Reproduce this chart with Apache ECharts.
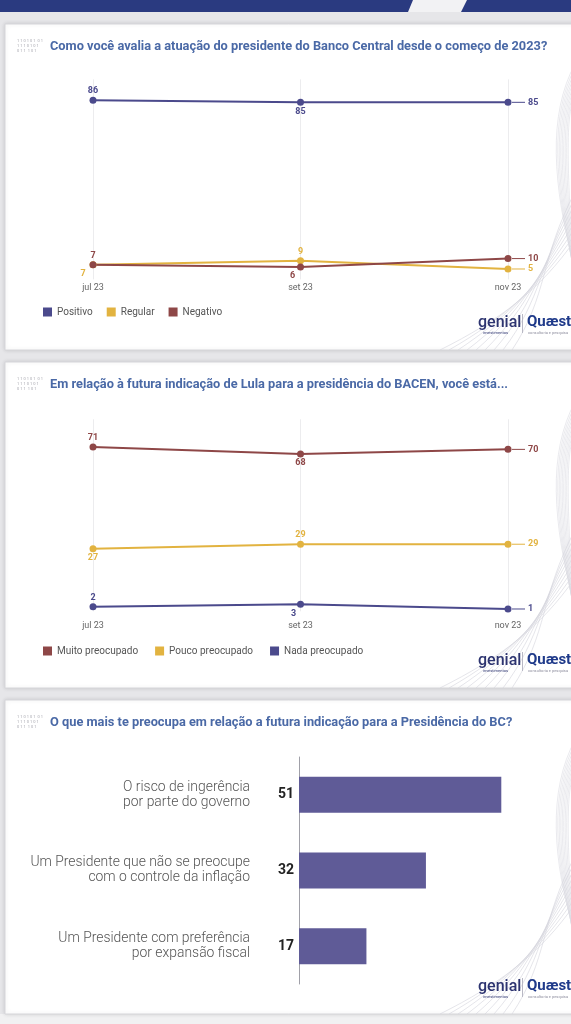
<!DOCTYPE html>
<html>
<head>
<meta charset="utf-8">
<script src="https://cdn.jsdelivr.net/npm/echarts@6/dist/echarts.min.js"></script>
<style>
  html, body { margin: 0; padding: 0; background: #e6e6e9; }
  #chart { width: 571px; height: 1024px; }
</style>
</head>
<body>
<div id="chart"></div>
<script>
// data
var months = ['jul 23', 'set 23', 'nov 23'];

var positivo = [86, 85, 85];
var regular = [7, 9, 5];
var negativo = [7, 6, 10];

var muitoPreocupado = [71, 68, 70];
var poucoPreocupado = [27, 29, 29];
var nadaPreocupado = [2, 3, 1];

var motivos = [
    'O risco de ingerência\npor parte do governo',
    'Um Presidente que não se preocupe\ncom o controle da inflação',
    'Um Presidente com preferência\npor expansão fiscal'
];
var motivosValores = [51, 32, 17];

var titles = [
    'Como você avalia a atuação do presidente do Banco Central desde o começo de 2023?',
    'Em relação à futura indicação de Lula para a presidência do BACEN, você está...',
    'O que mais te preocupa em relação a futura indicação para a Presidência do BC?'
];

var cBlue = '#4b4a8c';
var cYellow = '#e2b340';
var cRed = '#8e4747';
var cBar = '#5f5b97';
var font = 'Roboto';

// point label placement (last point uses the end label)
function pointData(values, places) {
    return values.map(function (v, i) {
        var p = places[i] || {};
        return {
            value: v,
            label: {
                show: i < values.length - 1,
                position: p.pos || 'top',
                offset: p.off || [0, 0]
            }
        };
    });
}

function lineSeries(name, values, color, places, gridIdx) {
    return {
        name: name,
        type: 'line',
        xAxisIndex: gridIdx,
        yAxisIndex: gridIdx,
        data: pointData(values, places),
        symbol: 'circle',
        symbolSize: 7,
        lineStyle: { color: color, width: 2 },
        itemStyle: { color: color },
        label: {
            distance: 1,
            color: color,
            fontFamily: font,
            fontWeight: 'bold',
            fontSize: 9
        },
        endLabel: {
            show: true,
            distance: 4,
            formatter: function (p) {
                return '{d|}{v|' + p.value + '}';
            },
            rich: {
                d: { width: 13, height: 1, backgroundColor: color },
                v: { color: color, fontFamily: font, fontWeight: 'bold', fontSize: 9, padding: [0, 0, 0, 3] }
            }
        }
    };
}

// cards, header, titles, logos
var g = [];
g.push({ type: 'rect', z: -5, shape: { x: 0, y: 0, width: 571, height: 1024 }, style: { fill: '#e6e6e9' } });
g.push({ type: 'rect', z: -4, shape: { x: 0, y: 0, width: 571, height: 12 }, style: { fill: '#2a3a80' } });
g.push({ type: 'polygon', z: -3, shape: { points: [[408, 12], [413, 0], [467, 0], [461, 12]] }, style: { fill: '#f2f2f4' } });
g.push({ type: 'rect', z: -4, shape: { x: 0, y: 1014, width: 571, height: 10 }, style: { fill: '#f1f1f2' } });

var cards = [[24, 326], [362, 326], [700, 314]];
cards.forEach(function (c, k) {
    g.push({
        type: 'rect', z: -3,
        shape: { x: 5, y: c[0], width: 580, height: c[1] },
        style: { fill: '#ffffff', stroke: '#d6d6da', lineWidth: 1, shadowBlur: 4, shadowColor: 'rgba(0,0,0,0.12)' }
    });
    var ty = c[0] + 23;
    // tiny source lines left of the title
    ['1 1 0 1 0 1  0 1', '1 1 1 0 1 0 1', '0 1 1  1 0 1'].forEach(function (t, j) {
        g.push({ type: 'text', z: 1, style: { x: 17, y: ty - 6 + j * 5, text: t, fontSize: 4, fill: '#a8a8b0', fontFamily: font, verticalAlign: 'middle' } });
    });
    g.push({
        type: 'text', z: 1,
        style: { x: 50, y: ty, text: titles[k], fontFamily: font, fontWeight: 'bold', fontSize: 12.8, fill: '#4a69a6', verticalAlign: 'middle' }
    });
    // decorative waves
    var b = c[0] + c[1];
    for (var i = 0; i < 9; i++) {
        g.push({
            type: 'bezierCurve', z: -2,
            shape: { x1: 440 + i * 9, y1: b, cpx1: 500 + i * 6, cpy1: b - 30 - i * 3, cpx2: 540, cpy2: b - 60 - i * 4, x2: 575, y2: b - 110 - i * 6 },
            style: { stroke: '#d4d4dc', lineWidth: 0.6, fill: null }
        });
        g.push({
            type: 'bezierCurve', z: -2,
            shape: { x1: 575, y1: c[0] + 40 + i * 4, cpx1: 548 + i * 2, cpy1: c[0] + 90, cpx2: 552 + i * 2, cpy2: c[0] + 160, x2: 575, y2: b - 80 + i * 3 },
            style: { stroke: '#dcdce3', lineWidth: 0.6, fill: null }
        });
    }
    var ly = b - 27;
    g.push({ type: 'text', z: 1, style: { x: 478, y: ly, text: 'genial', fontFamily: font, fontWeight: 500, fontSize: 16, fill: '#2d3470', verticalAlign: 'middle' } });
    g.push({ type: 'text', z: 1, style: { x: 483, y: ly + 10, text: 'investimentos', fontFamily: font, fontSize: 4, fill: '#2d3470', verticalAlign: 'middle' } });
    g.push({ type: 'rect', z: 1, shape: { x: 522, y: ly - 9, width: 1, height: 19 }, style: { fill: '#b8b8c4' } });
    g.push({ type: 'text', z: 1, style: { x: 527, y: ly - 1, text: 'Quæst', fontFamily: font, fontWeight: 'bold', fontSize: 15, fill: '#1f3a8a', verticalAlign: 'middle' } });
    g.push({ type: 'text', z: 1, style: { x: 528, y: ly + 10, text: 'consultoria e pesquisa', fontFamily: font, fontSize: 4, fill: '#9090a0', verticalAlign: 'middle' } });
});

var catAxis = function (gi, margin) {
    return {
        type: 'category', gridIndex: gi, data: months, boundaryGap: false,
        axisLine: { show: false }, axisTick: { show: false },
        axisLabel: { color: '#666', fontFamily: font, fontSize: 9, margin: margin },
        splitLine: { show: true, lineStyle: { color: '#ececee', width: 1 } }
    };
};

var option = {
    animation: false,
    backgroundColor: '#e6e6e9',
    graphic: g,
    legend: [
        {
            data: ['Positivo', 'Regular', 'Negativo'], left: 38, top: 302,
            icon: 'rect', itemWidth: 9, itemHeight: 9, itemGap: 14,
            textStyle: { color: '#555', fontFamily: font, fontSize: 10 }
        },
        {
            data: ['Muito preocupado', 'Pouco preocupado', 'Nada preocupado'], left: 38, top: 641,
            icon: 'rect', itemWidth: 9, itemHeight: 9, itemGap: 17,
            textStyle: { color: '#555', fontFamily: font, fontSize: 10 }
        }
    ],
    grid: [
        { left: 93, width: 415, top: 79.4, height: 200 },
        { left: 93, width: 415, top: 419.3, height: 192 },
        { left: 299, width: 238, top: 757, height: 227 }
    ],
    xAxis: [
        catAxis(0, 4),
        catAxis(1, 10),
        {
            type: 'value', gridIndex: 2, min: 0, max: 60, show: false
        }
    ],
    yAxis: [
        { type: 'value', gridIndex: 0, min: 0, max: 96, show: false },
        { type: 'value', gridIndex: 1, min: 0, max: 83, show: false },
        {
            type: 'category', gridIndex: 2, data: motivos, inverse: true,
            axisLine: { show: true, lineStyle: { color: '#a0a0a8', width: 1 } },
            axisTick: { show: false },
            axisLabel: { color: '#555', fontFamily: font, fontWeight: 300, fontSize: 13.9, lineHeight: 15, margin: 49 }
        }
    ],
    series: [
        lineSeries('Positivo', positivo, cBlue, [{ pos: 'top' }, { pos: 'bottom' }], 0),
        lineSeries('Regular', regular, cYellow, [{ pos: 'bottom', off: [-10, 0] }, { pos: 'top' }], 0),
        lineSeries('Negativo', negativo, cRed, [{ pos: 'top' }, { pos: 'bottom', off: [-8, 0] }], 0),
        lineSeries('Muito preocupado', muitoPreocupado, cRed, [{ pos: 'top' }, { pos: 'bottom' }], 1),
        lineSeries('Pouco preocupado', poucoPreocupado, cYellow, [{ pos: 'bottom' }, { pos: 'top' }], 1),
        lineSeries('Nada preocupado', nadaPreocupado, cBlue, [{ pos: 'top' }, { pos: 'bottom', off: [-7, 0] }], 1),
        {
            name: 'Motivos',
            type: 'bar',
            xAxisIndex: 2,
            yAxisIndex: 2,
            data: motivosValores,
            barWidth: 36,
            itemStyle: { color: cBar },
            label: {
                show: true, position: 'left', distance: 5,
                color: '#222', fontFamily: font, fontWeight: 'bold', fontSize: 14
            }
        }
    ]
};

var chart = echarts.init(document.getElementById('chart'));
chart.setOption(option);
</script>
</body>
</html>
